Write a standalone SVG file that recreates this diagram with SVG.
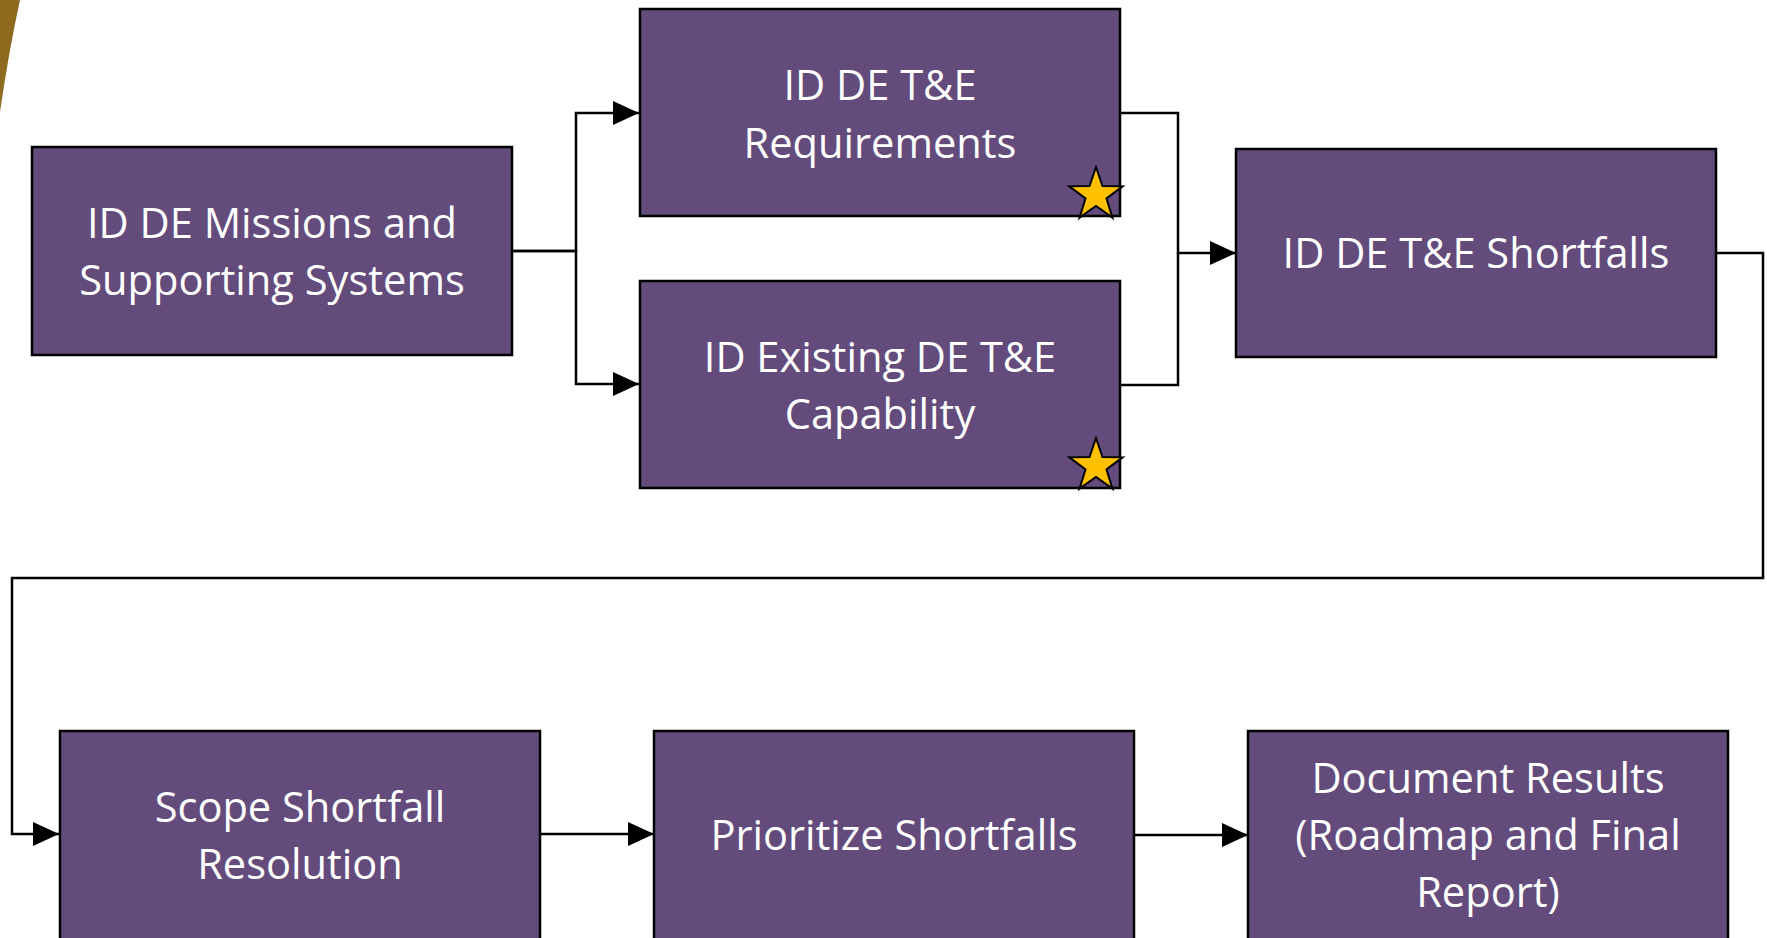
<svg xmlns="http://www.w3.org/2000/svg" width="1767" height="938" viewBox="0 0 1767 938">
<style>
.box{fill:#634C7C;stroke:#000;stroke-width:2.5}
.t{font-family:"Open Sans","Liberation Sans",sans-serif;font-size:41.6px;fill:#fff;text-anchor:middle}
.c{fill:none;stroke:#000;stroke-width:2.5}
.star{fill:#FFC000;stroke:#000;stroke-width:2}
</style>
<defs>
<marker id="ar" markerUnits="userSpaceOnUse" markerWidth="26" markerHeight="26" refX="26" refY="12" orient="auto">
<path d="M0,0 L26,12 L0,24 Z" fill="#000"/>
</marker>
<polygon id="st" points="0,-28 6.47,-8.9 26.63,-8.65 10.46,3.4 16.46,22.65 0,11 -16.46,22.65 -10.46,3.4 -26.63,-8.65 -6.47,-8.9"/>
</defs>
<rect width="1767" height="938" fill="#fff"/>
<path d="M0,0 L20,0 Q9,50 0,112 Z" fill="#8E6A1E"/>
<g id="connectors">
<path class="c" d="M512,251 H576 V113 H639" marker-end="url(#ar)"/>
<path class="c" d="M512,251 H576 V384 H639" marker-end="url(#ar)"/>
<path class="c" d="M1120,113 H1178 V253 H1236" marker-end="url(#ar)"/>
<path class="c" d="M1120,385 H1178 V253"/>
<path class="c" d="M1716,253 H1763 V578 H12 V834 H59" marker-end="url(#ar)"/>
<path class="c" d="M540,834 H654" marker-end="url(#ar)"/>
<path class="c" d="M1134,835 H1248" marker-end="url(#ar)"/>
</g>
<g id="n1">
<rect class="box" x="32" y="147" width="480" height="208"/>
<text class="t" x="272" y="238">ID DE Missions and</text>
<text class="t" x="272" y="295">Supporting Systems</text>
</g>
<g id="n2">
<rect class="box" x="640" y="9" width="480" height="207"/>
<text class="t" x="880" y="100">ID DE T&amp;E</text>
<text class="t" x="880" y="158">Requirements</text>
<use href="#st" class="star" x="1096" y="195"/>
</g>
<g id="n3">
<rect class="box" x="640" y="281" width="480" height="207"/>
<text class="t" x="880" y="372">ID Existing DE T&amp;E</text>
<text class="t" x="880" y="429">Capability</text>
<use href="#st" class="star" x="1096" y="466"/>
</g>
<g id="n4">
<rect class="box" x="1236" y="149" width="480" height="208"/>
<text class="t" x="1476" y="268">ID DE T&amp;E Shortfalls</text>
</g>
<g id="n5">
<rect class="box" x="60" y="731" width="480" height="210"/>
<text class="t" x="300" y="822">Scope Shortfall</text>
<text class="t" x="300" y="879">Resolution</text>
</g>
<g id="n6">
<rect class="box" x="654" y="731" width="480" height="210"/>
<text class="t" x="894" y="850">Prioritize Shortfalls</text>
</g>
<g id="n7">
<rect class="box" x="1248" y="731" width="480" height="210"/>
<text class="t" x="1488" y="793">Document Results</text>
<text class="t" x="1488" y="850">(Roadmap and Final</text>
<text class="t" x="1488" y="907">Report)</text>
</g>
</svg>
